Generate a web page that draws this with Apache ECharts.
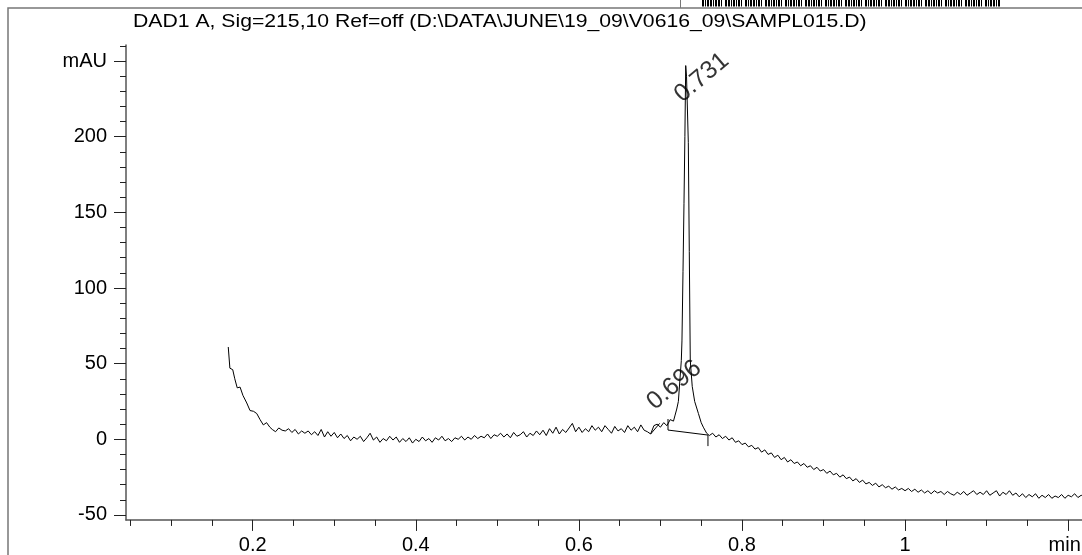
<!DOCTYPE html>
<html><head><meta charset="utf-8">
<script src="https://cdn.jsdelivr.net/npm/echarts@6/dist/echarts.min.js"></script>
<style>html,body{margin:0;padding:0;background:#fff}#c{width:1082px;height:555px}</style>
</head><body><div id="c"></div><script>
// ---------- DATA ----------
const chartTitle = 'DAD1 A, Sig=215,10 Ref=off (D:\\DATA\\JUNE\\19_09\\V0616_09\\SAMPL015.D)';
const yUnit = 'mAU';
const xUnit = 'min';
const yMajorTicks = [-50, 0, 50, 100, 150, 200, 250];
const yMinorTicks = [-50,-40,-30,-20,-10,0,10,20,30,40,50,60,70,80,90,100,110,120,130,140,150,160,170,180,190,200,210,220,230,240,250,260];
const xMajorTicks = [0.2, 0.4, 0.6, 0.8, 1.0, 1.2];
const xMinorTicks = [0.05,0.1,0.15,0.2,0.25,0.3,0.35,0.4,0.45,0.5,0.55,0.6,0.65,0.7,0.75,0.8,0.85,0.9,0.95,1.0,1.05,1.1,1.15,1.2];

// signal before the main peak  [time min, mAU]
const signalFront = [
[0.170,61],[0.172,47],[0.1755,46],[0.178,40],[0.181,34],[0.1845,34.5],[0.188,29],[0.1927,24],[0.1967,19],[0.201,18.5],[0.205,17],[0.209,13],[0.213,9.5],[0.217,11],[0.221,8],
[0.224,6.5],[0.228,5],[0.232,7.5],[0.236,6],[0.240,5.5],[0.244,7],[0.248,4.5],[0.252,6.5],[0.256,3.5],[0.260,5.5],[0.264,4],[0.268,5.5],[0.272,3],[0.276,5],[0.280,2.5],[0.284,6.5],[0.288,1.5],[0.292,5],[0.296,2],[0.300,4.5],
[0.304,1],[0.308,3.5],[0.312,0.5],[0.316,2.5],[0.320,-1],[0.324,1.5],[0.328,0],[0.332,2],[0.336,-1.5],[0.340,1],[0.344,4],[0.348,-0.5],[0.352,1.5],[0.356,-2],[0.360,0.5],[0.364,-1],[0.368,2],[0.372,-0.5],[0.376,1.5],[0.380,-2],[0.384,0.5],[0.388,-1.5],[0.392,1],[0.396,-2.5],[0.400,0],[0.404,-1.5],[0.408,1.5],[0.412,-1],[0.416,0.5],[0.420,-2],[0.424,1],[0.428,-0.5],[0.432,2],[0.436,-1],[0.440,0.5],[0.444,-1.5],[0.448,1],[0.452,0],[0.456,2],[0.460,-0.5],
[0.464,1.5],[0.468,0],[0.472,2.5],[0.476,0.5],[0.480,2],[0.484,1],[0.488,3.5],[0.492,0.5],[0.496,3],[0.500,2],[0.504,4],[0.508,1.5],[0.512,3.5],[0.516,1],[0.520,4.5],[0.524,2],[0.528,3],[0.532,5],[0.536,1.5],[0.540,4],[0.544,2.5],[0.548,5.5],
[0.552,3],[0.556,6],[0.560,2.5],[0.564,7],[0.568,4],[0.572,8],[0.576,3.5],[0.580,6.5],[0.584,4.5],[0.588,7.5],[0.592,10.5],[0.596,5],[0.600,8],[0.604,4.5],[0.608,7],[0.612,5],[0.616,9],[0.620,6],[0.624,8],[0.628,5],[0.632,9],[0.636,6.5],[0.640,4],[0.644,8.5],[0.648,5.5],[0.652,7],[0.656,4.5],[0.660,9],[0.664,6],[0.668,8],[0.672,5],[0.676,9.5],[0.680,6],
[0.684,5],[0.688,3.5],[0.692,9],[0.696,10],[0.700,8],[0.704,11],[0.708,9],[0.712,13],[0.716,12]
];
// main peak at 0.731
const signalPeak = [
[0.718,16],[0.720,20],[0.722,25],[0.724,40],[0.7256,52],[0.7264,65],[0.7277,111],[0.7289,156],[0.730,200],[0.731,247],[0.732,240],[0.7342,196],[0.7354,124],[0.7366,52],[0.739,35],[0.742,25],[0.7466,17],[0.750,11],[0.7526,8],[0.7567,4]
];
// signal after the peak
const signalTail = [
[0.760,2.5],[0.764,4],[0.768,1.5],[0.772,3],[0.776,0.5],[0.780,2],[0.784,-0.5],[0.788,1],[0.792,-2],[0.796,-1],[0.800,-3.5],[0.804,-2.5],[0.808,-5],[0.812,-4],[0.816,-6.5],[0.820,-5.5],[0.824,-8.5],[0.828,-7],[0.832,-10],[0.836,-9],[0.840,-12],[0.844,-10.5],[0.848,-13.5],[0.852,-12],[0.856,-15],[0.860,-13.5],[0.864,-16],[0.868,-15],[0.872,-17.5],[0.876,-16],[0.880,-18.5],[0.884,-17.5],[0.888,-20],[0.892,-18.5],[0.896,-21],[0.900,-20],[0.904,-22.5],[0.908,-21],[0.912,-23.5],[0.916,-22.5],[0.920,-25],[0.924,-23.5],[0.928,-26],[0.932,-25],[0.936,-27.5],[0.940,-26],[0.944,-28.5],[0.948,-27],[0.952,-29.5],[0.956,-28.5],[0.960,-30.5],[0.964,-29],[0.968,-31.5],[0.972,-30],[0.976,-32],[0.980,-31],[0.984,-33],[0.988,-31.5],[0.992,-33.5],[0.996,-32.5],
[1.000,-34],[1.004,-32.5],[1.008,-34.5],[1.012,-33],[1.016,-35],[1.020,-33.5],[1.024,-35.5],[1.028,-34],[1.032,-36],[1.036,-34],[1.040,-35.5],[1.044,-34.5],[1.048,-36.5],[1.052,-34.5],[1.056,-36],[1.060,-37],[1.064,-35],[1.068,-36.5],[1.072,-34.5],[1.076,-37],[1.080,-35.5],[1.084,-34],[1.088,-36.5],[1.092,-35],[1.096,-36.5],[1.100,-34],
[1.104,-37],[1.108,-35.5],[1.112,-34],[1.116,-37.5],[1.120,-35],[1.124,-36.5],[1.128,-34],[1.132,-37],[1.136,-35.5],[1.140,-38],[1.144,-36],[1.148,-38.5],[1.152,-36.5],[1.156,-38],[1.160,-36],[1.164,-39],[1.168,-37],[1.172,-38.5],[1.176,-36.5],[1.180,-39],[1.184,-37.5],[1.188,-38.5],[1.192,-36.5],[1.196,-39],[1.200,-37],[1.204,-38],[1.208,-36],[1.212,-38.5],[1.216,-37],[1.220,-38],[1.224,-36.5]
];
// integration results
const peakRT = [0.696, 0.731];
const peakApex = [10, 247];
const baseline731 = [[0.7093, 6.1], [0.7583, 2.8]];
const startMark731 = [[0.7093, 13.4], [0.7093, 6.1]];
const endMark731 = [[0.7583, 2.8], [0.7583, -4.5]];
const baseline696 = [[0.688, 3.5], [0.699, 10.5]];

// ---------- CHART ----------
const FONT = '"Liberation Sans", Arial, sans-serif';
const AXIS = '#555';
const el = document.getElementById('c');
const chart = echarts.init(el, null, {renderer: 'canvas'});

// label placement: wanted screen shift of label centre from the apex, in px
const labelAngle = 40;
const labelScreenShift = [[17, -39], [16, 12]];
const ca = Math.cos(labelAngle * Math.PI / 180), sa = Math.sin(labelAngle * Math.PI / 180);
// ECharts rotates the offset together with the label, so undo that rotation
const labelOffsets = labelScreenShift.map(([dx, dy]) => [dx * ca - dy * sa, dx * sa + dy * ca]);

// decorative barcode (page header)
const barcodePattern = '1101011011010110110100011011010110101101000110101101101011010001101101011010110100011010110110101101000110110101101011010001101011011010110100011011010110101101000110101101101011010001101101011010110100011010110110101101000110110101101011010001101011011010110100011011010110101101000110101101101011';
const barcode = [];
for (let i = 0; i < barcodePattern.length; i++) {
  if (barcodePattern[i] === '1') barcode.push({type: 'rect', shape: {x: 702 + i, y: 0, width: 1, height: 6.5}, style: {fill: '#000'}, silent: true});
}

function segSeries(data) {
  return {type: 'line', data: data, showSymbol: false, silent: true, animation: false,
    lineStyle: {color: '#000', width: 1}, xAxisIndex: 0, yAxisIndex: 0, z: 3};
}

const gridLeft = 126, gridTop = 45, gridRight = 0;
const xMin = 0.0446, xMax = 1.217, yMin = -53.3, yMax = 260.6;
const pxPerMAU = 1.513;

chart.setOption({
  animation: false,
  backgroundColor: '#fff',
  graphic: [
    {type: 'rect', shape: {x: 8, y: 8, width: 1200, height: 700}, style: {fill: null, stroke: '#777', lineWidth: 1.5}, silent: true},
    {type: 'line', shape: {x1: 680.5, y1: 0, x2: 680.5, y2: 8}, style: {stroke: '#777', lineWidth: 1}, silent: true},
    {type: 'text', x: 133, y: 12, scaleX: 1.115, style: {text: chartTitle, fontFamily: FONT, fontSize: 19, fill: '#000', textVerticalAlign: 'top'}, silent: true}
  ].concat(barcode),
  grid: {left: gridLeft, top: gridTop, right: gridRight, height: (yMax - yMin) * pxPerMAU,
    containLabel: false, outerBoundsMode: 'none'},
  xAxis: [
    {type: 'value', min: xMin, max: xMax, position: 'bottom',
      axisLine: {show: true, onZero: false, lineStyle: {color: AXIS, width: 1.5}},
      axisTick: {show: true, customValues: xMinorTicks, length: 6, lineStyle: {color: '#222', width: 1}},
      axisLabel: {show: false}, splitLine: {show: false}},
    {type: 'value', min: xMin, max: xMax, position: 'bottom',
      axisLine: {show: false, onZero: false},
      axisTick: {show: true, customValues: xMajorTicks, length: 11, lineStyle: {color: '#222', width: 1}},
      axisLabel: {show: true, customValues: xMajorTicks, margin: 16, fontFamily: FONT, fontSize: 20, color: '#000',
        rich: {u: {fontFamily: FONT, fontSize: 20, color: '#000', padding: [0, 7, 0, 0]}},
        formatter: v => (Math.abs(v - xMajorTicks[xMajorTicks.length - 1]) < 1e-9 ? '{u|' + xUnit + '}' : String(+v.toFixed(1)))},
      splitLine: {show: false}}
  ],
  yAxis: [
    {type: 'value', min: yMin, max: yMax, position: 'left',
      axisLine: {show: true, onZero: false, lineStyle: {color: AXIS, width: 1.5}},
      axisTick: {show: true, customValues: yMinorTicks, length: 6, lineStyle: {color: '#222', width: 1}},
      axisLabel: {show: false}, splitLine: {show: false}},
    {type: 'value', min: yMin, max: yMax, position: 'left',
      axisLine: {show: false, onZero: false},
      axisTick: {show: true, customValues: yMajorTicks, length: 12, lineStyle: {color: '#222', width: 1}},
      axisLabel: {show: true, customValues: yMajorTicks, margin: 19, fontFamily: FONT, fontSize: 20, color: '#000',
        formatter: v => (v === yMajorTicks[yMajorTicks.length - 1] ? yUnit : String(v))},
      splitLine: {show: false}}
  ],
  series: [
    {type: 'line', data: signalFront.concat(signalPeak, signalTail), showSymbol: false, silent: true,
      lineStyle: {color: '#000', width: 1}, xAxisIndex: 0, yAxisIndex: 0, z: 2},
    segSeries(baseline731), segSeries(startMark731), segSeries(endMark731), segSeries(baseline696),
    {type: 'scatter', xAxisIndex: 0, yAxisIndex: 0, symbolSize: 0, silent: true, z: 4,
      data: peakRT.map((t, i) => ({value: [t, peakApex[i]], label: {offset: labelOffsets[i]}})),
      label: {show: true, position: 'inside', rotate: labelAngle, fontFamily: FONT, fontSize: 25, color: '#000',
        textBorderWidth: 0, formatter: p => p.value[0].toFixed(3)}}
  ]
});
</script></body></html>
